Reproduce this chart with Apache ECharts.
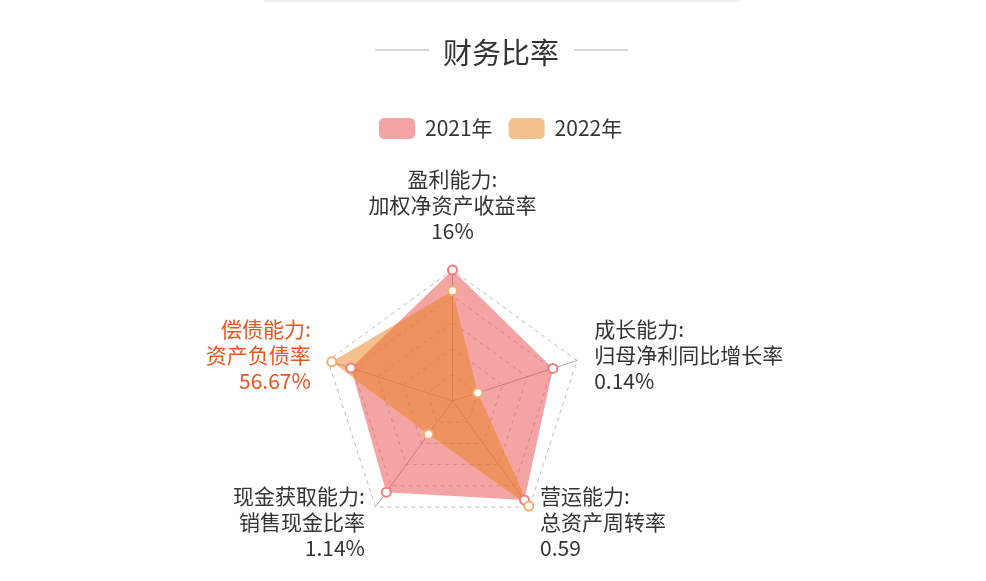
<!DOCTYPE html>
<html>
<head>
<meta charset="utf-8">
<script src="https://cdn.jsdelivr.net/npm/echarts@6/dist/echarts.min.js"></script>
<style>
html,body{margin:0;padding:0;background:#fff;}
#chart{width:986px;height:581px;}
</style>
</head>
<body>
<div id="chart"></div>
<script>
// Indicators in ECharts order (top, then counter-clockwise)
const categories = ['盈利能力', '偿债能力', '现金获取能力', '营运能力', '成长能力'];
const subNames = ['加权净资产收益率', '资产负债率', '销售现金比率', '总资产周转率', '归母净利同比增长率'];
const displayValues = ['16%', '56.67%', '1.14%', '0.59', '0.14%'];
const nameColors = ['#333333', '#e8561f', '#333333', '#333333', '#333333'];
const maxValues = [19, 58.5, 3.64, 0.595, 0.69];
const values2021 = [19, 47.7, 3.13, 0.556, 0.556];
const values2022 = [16, 56.67, 1.14, 0.59, 0.14];
const seriesNames = ['2021年', '2022年'];

const FONT = '"Noto Sans CJK SC", "Noto Sans", sans-serif';

const chart = echarts.init(document.getElementById('chart'));
const option = {
  animation: false,
  textStyle: { fontFamily: FONT },
  title: {
    text: '财务比率',
    left: 496,
    top: 33,
    textAlign: 'center',
    textStyle: { fontSize: 29, fontWeight: 'normal', color: '#333', fontFamily: FONT }
  },
  graphic: [
    { type: 'rect', shape: { x: 264, y: 0, width: 476, height: 2 }, style: { fill: '#f3f0ee' } },
    { type: 'line', shape: { x1: 375, y1: 50, x2: 429, y2: 50 }, style: { stroke: '#c8c8c8', lineWidth: 1.5 } },
    { type: 'line', shape: { x1: 574, y1: 50, x2: 628, y2: 50 }, style: { stroke: '#c8c8c8', lineWidth: 1.5 } }
  ],
  legend: {
    left: 379,
    top: 118,
    padding: 0,
    itemWidth: 36,
    itemHeight: 21,
    itemGap: 16,
    icon: 'roundRect',
    textStyle: { fontSize: 21, color: '#333', fontFamily: FONT, padding: [0, 0, 0, 5] },
    data: [
      { name: seriesNames[0], itemStyle: { color: '#f4a3a2', borderWidth: 0 } },
      { name: seriesNames[1], itemStyle: { color: '#f4c18d', borderWidth: 0 } }
    ]
  },
  radar: {
    center: [452.5, 401],
    radius: 131,
    splitNumber: 5,
    nameGap: 18,
    indicator: categories.map((c, i) => ({
      name: c + ':\n' + subNames[i] + '\n' + displayValues[i],
      max: maxValues[i],
      color: nameColors[i]
    })),
    axisName: {
      fontSize: 21,
      lineHeight: 26,
      fontFamily: FONT,
      formatter: function (name, indicator) {
        // extra spacer line under the top (bottom-aligned) label
        return indicator && indicator.name === categories[0] + ':\n' + subNames[0] + '\n' + displayValues[0]
          ? name + '\n{g|}' : name;
      },
      rich: { g: { lineHeight: 8, fontSize: 8 } }
    },
    axisLine: { lineStyle: { color: '#aaaaaa', width: 1 } },
    splitLine: { lineStyle: { color: '#bbbbbb', type: [4, 4], width: 1 } },
    splitArea: { show: false }
  },
  series: [{
    type: 'radar',
    symbol: 'emptyCircle',
    symbolSize: 9,
    data: [
      {
        name: seriesNames[0],
        value: values2021,
        itemStyle: { color: '#f07d7c', borderWidth: 1.5 },
        lineStyle: { opacity: 0, width: 0 },
        areaStyle: { color: 'rgba(233,73,69,0.5)', opacity: 1 }
      },
      {
        name: seriesNames[1],
        value: values2022,
        itemStyle: { color: '#f3ad70', borderWidth: 1.5 },
        lineStyle: { opacity: 0, width: 0 },
        areaStyle: { color: 'rgba(233,131,30,0.5)', opacity: 1 }
      }
    ]
  }]
};
chart.setOption(option);
</script>
</body>
</html>
